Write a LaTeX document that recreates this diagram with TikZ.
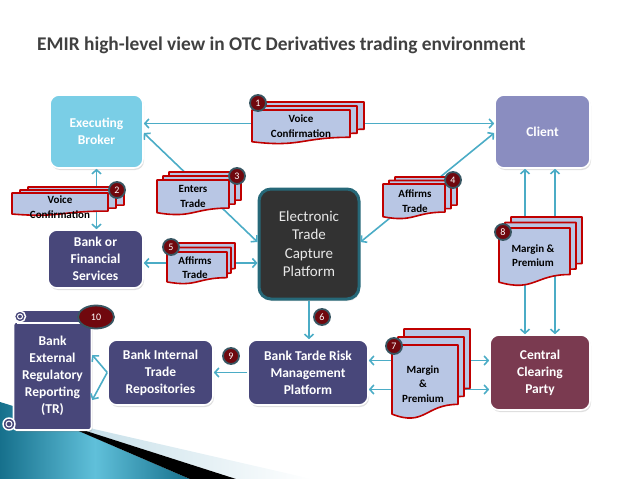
\documentclass[tikz,border=0pt]{standalone}
\usepackage{fontspec}
\setmainfont{Carlito}
\usetikzlibrary{arrows.meta,shadows,shapes.geometric}

\definecolor{linkcol}{RGB}{75,172,198}
\definecolor{brokercol}{RGB}{122,206,230}
\definecolor{clientcol}{RGB}{138,141,192}
\definecolor{bankcol}{RGB}{72,71,122}
\definecolor{ccpcol}{RGB}{122,58,80}
\definecolor{etcpcol}{RGB}{50,50,50}
\definecolor{etcpline}{RGB}{38,104,120}
\definecolor{docred}{RGB}{192,0,0}
\definecolor{docfill}{RGB}{184,198,228}
\definecolor{badgecol}{RGB}{112,8,14}
\definecolor{badgeline}{RGB}{56,86,98}
\definecolor{titlecol}{RGB}{64,64,64}
\definecolor{swoopdark}{RGB}{22,112,140}
\definecolor{swooplight}{RGB}{96,192,218}
\definecolor{bandcol}{RGB}{196,222,232}

\tikzset{
  box/.style={rectangle, rounded corners=9pt, draw=white, line width=1.6pt, text=white, align=center,
    font=\fontsize{13.5}{17}\selectfont\bfseries, drop shadow={opacity=0.25,shadow xshift=1pt,shadow yshift=-2pt}},
  etcpbox/.style={rectangle, rounded corners=12pt, draw=etcpline, line width=3pt, fill=etcpcol,
    text={rgb,255:red,232;green,232;blue,232}, align=center, minimum width=100pt, minimum height=110pt,
    font=\fontsize{15}{18.5}\selectfont, drop shadow={opacity=0.25,shadow xshift=1pt,shadow yshift=-2pt}},
  link/.style={draw=linkcol, line width=1.6pt, {Straight Barb[length=4pt,width=9pt]}-{Straight Barb[length=4pt,width=9pt]}},
  linkone/.style={draw=linkcol, line width=1.6pt, -{Straight Barb[length=4pt,width=9pt]}},
  page/.style={draw=docred, line width=1.6pt, fill=docfill, line join=round},
  doctext/.style={align=center, font=\fontsize{11}{14.5}\selectfont\bfseries, text=black},
  badge/.style={fill=badgecol, draw=badgeline, line width=1.8pt, inner sep=0pt, text=white,
    font=\fontsize{10}{10}\selectfont},
  scroll/.style={fill=bankcol, draw=white, line width=1.4pt}
}

% one page of a document stack: x, y (top left), width, height
\newcommand{\docpage}[4]{%
  \filldraw[page] (#1,#2) -- ++(#3,0) -- ++(0,{0.802*#4})
    .. controls +({-0.5*#3},0) and +({0.5*#3},{0.174*#4}) .. ++({-#3},{0.132*#4}) -- cycle;}
% three pages: x, y, width, height, shift right, shift up
\newcommand{\docstack}[6]{%
  \docpage{#1+2*#5}{#2-2*#6}{#3}{#4}
  \docpage{#1+#5}{#2-#6}{#3}{#4}
  \docpage{#1}{#2}{#3}{#4}}

\begin{document}
\begin{tikzpicture}[x=1pt,y=-1pt]
  \useasboundingbox (0,0) rectangle (638,479);
  % swoosh at the bottom
  \shade[left color=swoopdark, right color=swoopdark, middle color=swooplight]
    (0,402) .. controls (30,411) and (52,420) .. (72,428) -- (190,479) -- (0,479) -- cycle;
  \shade[left color=bandcol, right color=white] (72,424) -- (312,479) -- (236,479) -- (72,427) -- cycle;
  \fill[black] (72,426.5) -- (236,479) -- (190,479) -- (74,429) -- cycle;

  \node[anchor=west, inner sep=0pt, text=titlecol, font=\fontsize{19.4}{22}\selectfont\bfseries] (title) at (37,45)
    {EMIR high-level view in OTC Derivatives trading environment};

  % boxes
  \node[box, fill=brokercol, minimum width=93pt, minimum height=73pt] (broker) at (96.5,131.5) {Executing\\Broker};
  \node[box, fill=clientcol, minimum width=95pt, minimum height=73pt] (client) at (542.5,131.5) {Client};
  \node[etcpbox] (etcp) at (309,244) {Electronic\\Trade\\Capture\\Platform};
  \node[box, fill=bankcol, minimum width=95pt, minimum height=58pt] (bankfin) at (95.5,259) {Bank or\\Financial\\Services};
  \node[box, fill=bankcol, minimum width=120pt, minimum height=65pt] (bankrisk) at (308,372.5) {Bank Tarde Risk\\Management\\Platform};
  \node[box, fill=bankcol, minimum width=105pt, minimum height=65pt] (bankint) at (160.5,372.5) {Bank Internal\\Trade\\Repositories};
  \node[box, fill=ccpcol, minimum width=100pt, minimum height=75pt] (ccp) at (540,372.5) {Central\\Clearing\\Party};
  \node[box, fill=bankcol, rounded corners=3pt, minimum width=78pt, minimum height=108pt] (tr) at (52.5,376)
    {Bank\\External\\Regulatory\\Reporting\\(TR)};
  % scroll rolls of the TR box
  \filldraw[scroll] (18,310) rectangle (91,323);
  \filldraw[scroll] (20,316.5) circle (5.5pt);
  \draw[white, line width=1pt] (20,316.5) circle (2.5pt);
  \filldraw[scroll] (9,424) circle (6pt);
  \draw[white, line width=1pt] (9,424) circle (3pt);

  % connectors
  \coordinate (f5) at ([yshift=-4pt]bankfin.east);
  \draw[link] ([yshift=8pt]broker.east) -- ([yshift=8pt]client.west);
  \draw[link] ([yshift=-1.5pt]broker.east) -- ([yshift=2pt]etcp.west);
  \draw[link] ([yshift=2pt]etcp.east) -- ([yshift=-1.5pt]client.west);
  \draw[link] (broker.south) -- (broker.south |- bankfin.north);
  \draw[link] (f5) -- (f5 -| etcp.west);
  \draw[linkone] (etcp.south) -- (etcp.south |- bankrisk.north);
  \foreach \s/\k in {12/a,-17/b}{
    \coordinate (m\k) at ([yshift=\s pt]bankrisk.east);
    \draw[link] (m\k) -- (m\k -| ccp.west);}
  \foreach \s/\k in {-17.5/a,12.5/b}{
    \coordinate (c\k) at ([xshift=\s pt]client.south);
    \draw[link] (c\k) -- (c\k |- ccp.north);}
  \draw[linkone] (bankrisk.west) -- (bankint.east);
  \draw[linkone] (bankint.west) -- ([yshift=21pt]tr.east);
  \draw[linkone] (bankint.west) -- ([yshift=-24pt]tr.east);

  % document stacks
  \docstack{252}{110}{98}{34}{7}{4}
  \node[doctext] (vc1) at (301,126) {Voice\\Confirmation};
  \docstack{12}{193}{96}{22.5}{8}{3}
  \node[doctext] (vc2) at (60,207) {Voice\\Confirmation};
  \docstack{157}{180}{72}{35}{6}{4}
  \node[doctext] (et) at (193,196.5) {Enters\\Trade};
  \docstack{383}{184}{62}{35}{6}{3.5}
  \node[doctext] (at4) at (415,201) {Affirms\\Trade};
  \docstack{167}{252}{60}{32}{4}{4.5}
  \node[doctext] (at5) at (195,267.5) {Affirms\\Trade};
  \docstack{392}{345}{66}{74}{6}{8}
  \node[doctext] (mp7) at (423,384) {Margin\\\&\\Premium};
  \docstack{499}{228}{71}{58}{6}{5.5}
  \node[doctext] (mp8) at (533,255.5) {Margin \&\\Premium};

  % step numbers
  \foreach \n/\x/\y in {1/258/103, 2/117/190, 3/237/176, 4/453/180, 5/171/247,
                        6/322/317, 7/394/346, 8/503/232, 9/231/356}
    \node[badge, circle, minimum size=16pt] (b\n) at (\x,\y) {\n};
  \node[badge, ellipse, minimum width=36pt, minimum height=23pt] (b10) at (96,317) {10};
\end{tikzpicture}
\end{document}
